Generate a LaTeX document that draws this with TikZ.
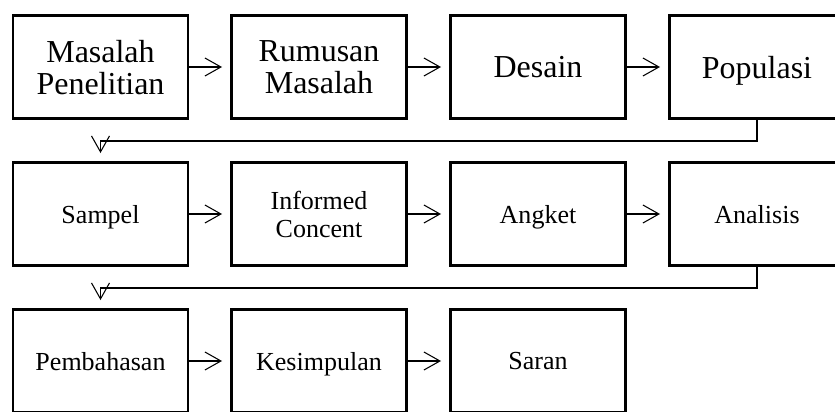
\documentclass[tikz,border=0pt]{standalone}
\usepackage{fontspec}
\setmainfont{Liberation Serif}
\usepackage{tikz}
\usetikzlibrary{arrows.meta}
\tikzset{
    box/.style={draw, line width=1.7pt, minimum width=3.5cm, minimum height=2.06cm, align=center, inner sep=0pt, text depth=0pt},
    bigtext/.style={font=\fontsize{18.2}{18.2}\selectfont},
    smalltext/.style={font=\fontsize{14.8}{15.9}\selectfont},
    flow/.style={-{Straight Barb[length=0.32cm, width=0.36cm]}, line width=0.6pt, shorten >=0.16cm}
}

\begin{document}
\begin{tikzpicture}
    \clip (0, 0) rectangle (16.7, 8.22);
    \node[box, bigtext] (masalah) at (2.01, 6.88) {Masalah\\Penelitian};
    \node[box, bigtext] (rumusan) at (6.38, 6.88) {Rumusan\\Masalah};
    \node[box, bigtext] (desain) at (10.76, 6.88) {Desain};
    \node[box, bigtext] (populasi) at (15.14, 6.88) {Populasi};
    \node[box, smalltext] (sampel) at (2.01, 3.94) {Sampel};
    \node[box, smalltext] (informed) at (6.38, 3.94) {Informed\\Concent};
    \node[box, smalltext] (angket) at (10.76, 3.94) {Angket};
    \node[box, smalltext] (analisis) at (15.14, 3.94) {Analisis};
    \node[box, smalltext] (pembahasan) at (2.01, 1.0) {Pembahasan};
    \node[box, smalltext] (kesimpulan) at (6.38, 1.0) {Kesimpulan};
    \node[box, smalltext] (saran) at (10.76, 1.0) {Saran};
    \draw[flow] (masalah) -- (rumusan);
    \draw[flow] (rumusan) -- (desain);
    \draw[flow] (desain) -- (populasi);
    \draw[flow] (populasi.south) -- ++(0, -0.42) -| (sampel.north);
    \draw[flow] (sampel) -- (informed);
    \draw[flow] (informed) -- (angket);
    \draw[flow] (angket) -- (analisis);
    \draw[flow] (analisis.south) -- ++(0, -0.42) -| (pembahasan.north);
    \draw[flow] (pembahasan) -- (kesimpulan);
    \draw[flow] (kesimpulan) -- (saran);
\end{tikzpicture}
\end{document}
